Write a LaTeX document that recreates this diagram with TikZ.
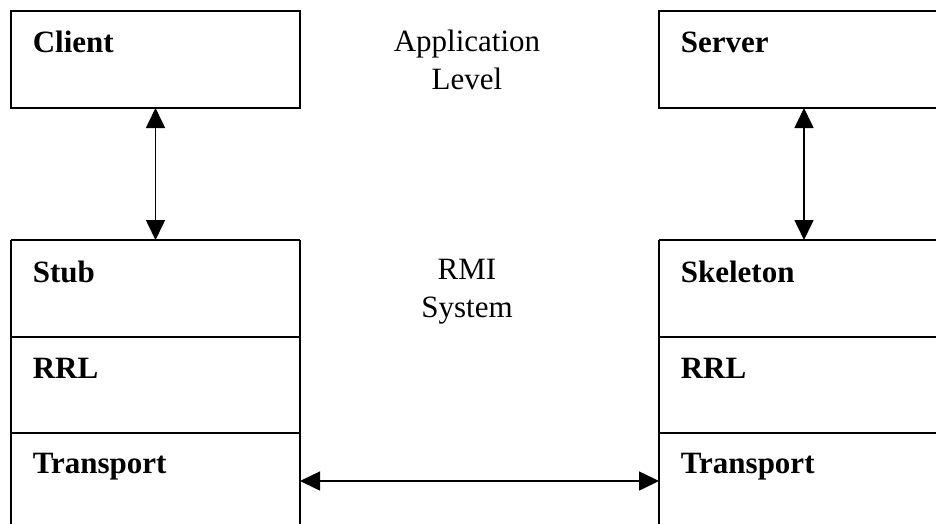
\documentclass[tikz,border=0pt]{standalone}
\usepackage{fontspec}
\setmainfont{Liberation Serif}
\usetikzlibrary{arrows.meta,calc}

\begin{document}
\begin{tikzpicture}[x=1pt,y=-1pt,
  line width=1.6pt,
  layer/.style={inner sep=0pt, outer sep=0pt, anchor=north west,
                minimum width=#1},
  layer/.default=289pt,
  boxed/.style={draw, layer=#1},
  boxed/.default=289pt,
  tag/.style={anchor=base west, inner sep=0pt, font=\fontsize{31}{38}\selectfont\bfseries},
  caption/.style={align=center, inner sep=0pt, font=\fontsize{31}{38}\selectfont},
  link/.style={{Triangle[length=20pt,width=19pt]}-{Triangle[length=20pt,width=19pt]}, line width=1.6pt}
]
\useasboundingbox (0,0) rectangle (936,523);

% application level
\node[boxed, minimum height=97pt] (client) at (11,11) {};
\node[boxed=290pt, minimum height=97pt] (server) at (659,11) {};

% RMI system, left stack (open at the bottom)
\node[layer, minimum height=97pt] (stub) at (11,240) {};
\node[layer, minimum height=96pt] (rrlL) at (stub.south west) {};
\node[layer, minimum height=96pt] (transL) at (rrlL.south west) {};

% RMI system, right stack (open at the bottom)
\node[layer=290pt, minimum height=97pt] (skel) at (659,240) {};
\node[layer=290pt, minimum height=96pt] (rrlR) at (skel.south west) {};
\node[layer=290pt, minimum height=96pt] (transR) at (rrlR.south west) {};

\draw (stub.north west) -- (stub.north east);
\draw (stub.north west) -- (transL.south west);
\draw (stub.north east) -- (transL.south east);
\draw (rrlL.north west) -- (rrlL.north east);
\draw (transL.north west) -- (transL.north east);

\draw (skel.north west) -- (skel.north east);
\draw (skel.north west) -- (transR.south west);
\draw (rrlR.north west) -- (rrlR.north east);
\draw (transR.north west) -- (transR.north east);

% layer names
\node[tag] (tclient) at ($(client.north west)+(21,41)$) {Client};
\node[tag] (tserver) at ($(server.north west)+(21,41)$) {Server};
\node[tag] (tstub) at ($(stub.north west)+(21,42)$) {Stub};
\node[tag] (tskel) at ($(skel.north west)+(21,42)$) {Skeleton};
\node[tag] (trrlL) at ($(rrlL.north west)+(21,41)$) {RRL};
\node[tag] (trrlR) at ($(rrlR.north west)+(21,41)$) {RRL};
\node[tag] (ttransL) at ($(transL.north west)+(21,40)$) {Transport};
\node[tag] (ttransR) at ($(transR.north west)+(21,40)$) {Transport};

% level captions (anchored on the baseline of their last line)
\node[caption, anchor=base] (applevel) at (467,89) {Application\\Level};
\node[caption, anchor=base] (rmisys) at (467,317) {RMI\\System};

% connectors
\draw[link] (client.south) -- (stub.north);
\draw[link] (server.south) -- (skel.north);
\draw[link] (transL.east) -- (transR.west);
\end{tikzpicture}
\end{document}
